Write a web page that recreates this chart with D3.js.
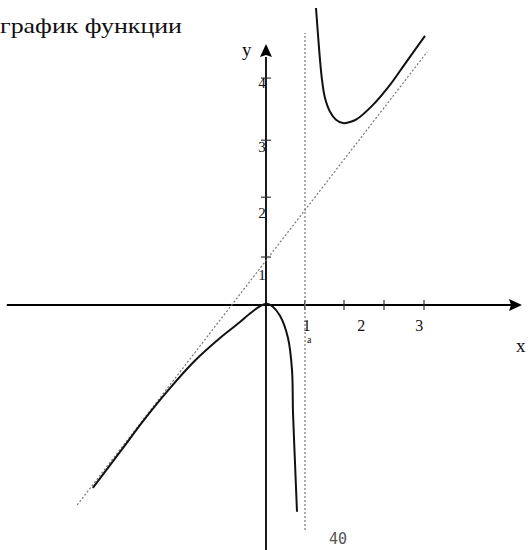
<!DOCTYPE html>
<meta charset="utf-8">
<script src="https://d3js.org/d3.v7.min.js"></script>
<style>
  body { margin: 0; background: #fff; }
  #my_graph text { font-family: "Liberation Serif", "DejaVu Serif", serif; fill: #111; }
</style>
<body>
<div id="my_graph"></div>
<script>

// branch through the origin and down to the vertical asymptote (graph units)
var leftX = [-4.33, -3.65, -3.03, -2.4, -1.78, -1.15, -0.65, -0.4, -0.12, 0.02, 0.15, 0.35, 0.55, 0.65, 0.675, 0.725, 0.775];
var leftY = [-3.21, -2.58, -2.0, -1.46, -0.98, -0.58, -0.3, -0.15, -0.01, 0.02, -0.02, -0.19, -0.58, -1.14, -1.89, -2.77, -3.63];

// branch above, right of the asymptote
var rightX = [1.25, 1.3, 1.35, 1.4, 1.475, 1.6, 1.75, 1.925, 2.1, 2.25, 2.675, 3.1, 3.475, 3.975];
var rightY = [5.21, 4.74, 4.3, 3.95, 3.63, 3.39, 3.25, 3.19, 3.21, 3.25, 3.51, 3.86, 4.23, 4.72];

// dotted asymptotes
var slantX = [-4.72, 4.03];
var slantY = [-3.51, 4.44];
var vertX = 0.975;
var vertY = [-3.95, 4.77];

// hand drawn ticks and labels
var xTicks = [0.97, 1.95, 2.95, 3.95];
var xLabels = ["1", "2", "3"];
var xLabelAt = [1.02, 2.38, 3.83];
var yTicks = [0.84, 1.89, 2.89, 3.98];
var yLabels = ["1", "2", "3", "4"];
var yLabelAt = [0.52, 1.62, 2.77, 3.9];

var width = 530, height = 550;

var svg = d3.select("#my_graph")
  .append("svg")
    .attr("width", width)
    .attr("height", height);

var x = d3.scaleLinear().domain([-6.65, 6.6]).range([0, width]);
var y = d3.scaleLinear().domain([-4.3, 5.35]).range([height, 0]);

// title
svg.append("text")
  .attr("x", 0).attr("y", 33)
  .attr("textLength", 182)
  .attr("lengthAdjust", "spacingAndGlyphs")
  .style("font-size", "21px")
  .text("график функции");

// axes
svg.append("line")
  .attr("x1", x(-6.48)).attr("x2", x(6.2))
  .attr("y1", y(0)).attr("y2", y(0))
  .attr("stroke", "#000").attr("stroke-width", 2);
svg.append("line")
  .attr("x1", x(0)).attr("x2", x(0))
  .attr("y1", y(-4.3)).attr("y2", y(4.35))
  .attr("stroke", "#000").attr("stroke-width", 1.8);

// arrow heads
svg.append("path")
  .attr("d", "M" + (x(6.4)) + "," + y(0) + "L" + (x(6.4) - 13) + "," + (y(0) - 6) + "L" + (x(6.4) - 11) + "," + y(0) + "L" + (x(6.4) - 13) + "," + (y(0) + 6) + "Z")
  .attr("fill", "#000");
svg.append("path")
  .attr("d", "M" + x(0) + "," + y(4.58) + "L" + (x(0) - 6) + "," + (y(4.58) + 13) + "L" + x(0) + "," + (y(4.58) + 11) + "L" + (x(0) + 6) + "," + (y(4.58) + 13) + "Z")
  .attr("fill", "#000");

svg.append("text").attr("x", x(0) - 24).attr("y", 56).style("font-size", "19px").text("y");
svg.append("text").attr("x", 516).attr("y", 352).style("font-size", "19px").text("x");

// ticks
svg.selectAll("xtick")
  .data(xTicks)
  .enter()
  .append("line")
    .attr("x1", function(d) { return x(d); })
    .attr("x2", function(d) { return x(d); })
    .attr("y1", y(0) - 5).attr("y2", y(0) + 5)
    .attr("stroke", "#333").attr("stroke-width", 1.2);
svg.selectAll("ytick")
  .data(yTicks)
  .enter()
  .append("line")
    .attr("y1", function(d) { return y(d); })
    .attr("y2", function(d) { return y(d); })
    .attr("x1", x(0) - 5).attr("x2", x(0) + 5)
    .attr("stroke", "#333").attr("stroke-width", 1.2);

svg.selectAll("xlab")
  .data(xLabels)
  .enter()
  .append("text")
    .attr("x", function(d, i) { return x(xLabelAt[i]); })
    .attr("y", y(-0.45))
    .attr("text-anchor", "middle")
    .style("font-size", "16px")
    .text(function(d) { return d; });
svg.append("text")
  .attr("x", x(1.08)).attr("y", y(-0.66))
  .attr("text-anchor", "middle")
  .style("font-size", "10px")
  .text("a");

svg.selectAll("ylab")
  .data(yLabels)
  .enter()
  .append("text")
    .attr("x", x(-0.1))
    .attr("y", function(d, i) { return y(yLabelAt[i]) + 5; })
    .attr("text-anchor", "middle")
    .style("font-size", "15px")
    .text(function(d) { return d; });

// asymptotes
svg.append("line")
  .attr("x1", x(slantX[0])).attr("y1", y(slantY[0]))
  .attr("x2", x(slantX[1])).attr("y2", y(slantY[1]))
  .attr("stroke", "#777").attr("stroke-width", 1.2)
  .attr("stroke-dasharray", "2,2");
svg.append("line")
  .attr("x1", x(vertX)).attr("y1", y(vertY[0]))
  .attr("x2", x(vertX)).attr("y2", y(vertY[1]))
  .attr("stroke", "#777").attr("stroke-width", 1.2)
  .attr("stroke-dasharray", "2,2");

// graph of the function
var line = d3.line()
  .x(function(d) { return x(d[0]); })
  .y(function(d) { return y(d[1]); })
  .curve(d3.curveCatmullRom);

svg.append("path")
  .attr("d", line(d3.zip(leftX, leftY)))
  .attr("fill", "none").attr("stroke", "#111").attr("stroke-width", 2);
svg.append("path")
  .attr("d", line(d3.zip(rightX, rightY)))
  .attr("fill", "none").attr("stroke", "#111").attr("stroke-width", 2);

// page number
svg.append("text")
  .attr("x", 338).attr("y", 544)
  .attr("text-anchor", "middle")
  .style("font-family", "DejaVu Sans Mono, monospace")
  .style("font-size", "15px")
  .style("fill", "#555")
  .text("40");

</script>
</body>
